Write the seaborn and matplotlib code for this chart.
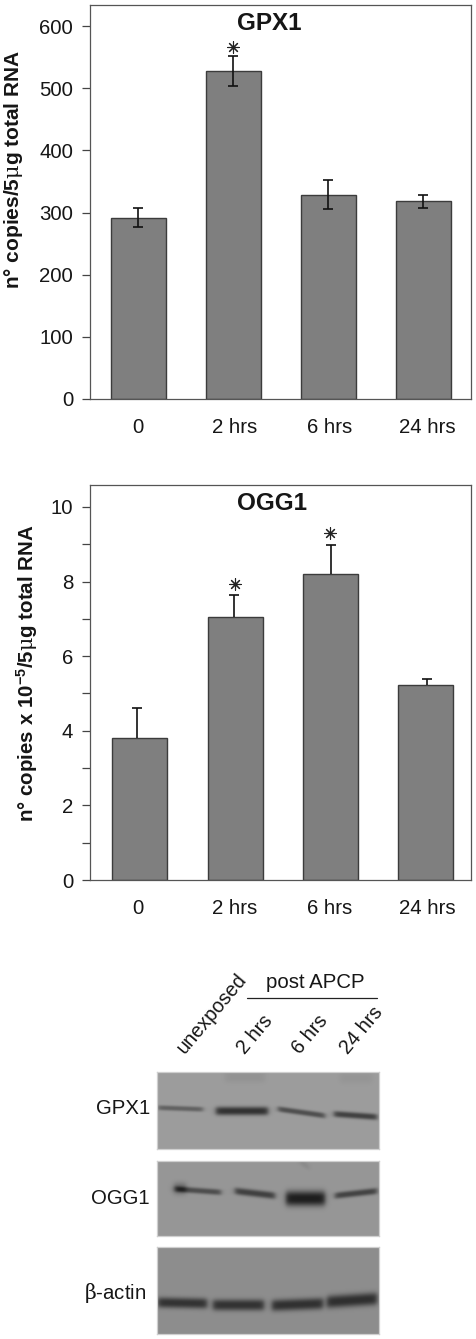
import numpy as np
import pandas as pd
import matplotlib
matplotlib.use('Agg')
import matplotlib.pyplot as plt
from matplotlib.ticker import MultipleLocator
import seaborn as sns

sns.set_theme(style='white')
plt.rcParams['font.family'] = ['Liberation Sans', 'DejaVu Sans']
plt.rcParams['mathtext.fontset'] = 'custom'
plt.rcParams['mathtext.rm'] = 'Liberation Sans'
plt.rcParams['mathtext.it'] = 'DejaVu Serif'
plt.rcParams['mathtext.bf'] = 'Liberation Sans:bold'
plt.rcParams['mathtext.default'] = 'regular'

W, H = 477, 1339
INK = '#161616'

times = ['0', '2 hrs', '6 hrs', '24 hrs']
# the time labels do not sit quite under the bars in the original
label_shift = [0, 0.01, 0.01, 0.04]

gpx_values = [291, 528, 329, 318]
gpx_low = [276, 504, 306, 308]
gpx_high = [307, 552, 352, 328]
gpx_star_x = [1]
gpx_star_y = [566]

ogg_values = [3.8, 7.06, 8.2, 5.22]
ogg_high = [4.6, 7.63, 8.97, 5.38]
ogg_star_x = [1, 2]
ogg_star_y = [7.94, 9.29]
# error bars in the OGG1 panel sit a little off the bar centres
ogg_err_shift = [-0.03, -0.015, 0.007, 0.014]

# western blots, in picture pixels: x0, x1, y0, y1, half width, darkness
blot_gpx_box = (157, 379, 1072, 1149)
blot_gpx_grey = 156
blot_gpx_bands = [
    (158, 203, 1107.7, 1109.3, 2.6, 58),
    (216, 268, 1111, 1111, 4.3, 105),
    (278, 325, 1109, 1115.7, 2.9, 76),
    (334, 377, 1114, 1117, 3.2, 90),
    (225, 265, 1077, 1077, 6, 9),
    (340, 372, 1078, 1078, 6, 7),
]
blot_ogg_box = (157, 379, 1161, 1236)
blot_ogg_grey = 150
blot_ogg_bands = [
    (175, 221, 1189, 1192.3, 3.0, 72),
    (174, 186, 1188.5, 1188.5, 6.0, 48),
    (235, 275, 1191, 1195.7, 3.6, 85),
    (286, 325, 1198.5, 1198.5, 7.5, 120),
    (335, 377, 1195.7, 1191, 3.3, 82),
    (300, 309, 1162, 1167, 3.5, 12),
]
blot_actin_box = (157, 379, 1247, 1334)
blot_actin_grey = 141
blot_actin_bands = [
    (158, 207, 1302.5, 1303.5, 5.3, 90),
    (213, 264, 1305, 1305, 5.6, 90),
    (272, 323, 1305.5, 1303.5, 5.8, 92),
    (327, 377, 1302, 1298.7, 6.4, 94),
]


def px_axes(left, top, right, bottom):
    return fig.add_axes([left / W, 1 - bottom / H, (right - left) / W, (bottom - top) / H])


def px_text(x, y, s, **kw):
    kw.setdefault('color', INK)
    fig.text(x / W, 1 - y / H, s, **kw)


def bar_panel(ax, values, lo, hi, ymax, shift=0.0, err_shift=None):
    data = pd.DataFrame({'time': times, 'value': values})
    sns.barplot(data=data, x='time', y='value', color='#7f7f7f', saturation=1,
                width=0.578, edgecolor='#3c3c3c', linewidth=1.0, errorbar=None, ax=ax)
    pos = np.arange(len(times))
    if err_shift is None:
        err_shift = np.zeros(len(times))
    yerr = [np.array(values) - np.array(lo), np.array(hi) - np.array(values)]
    _, caps, _ = ax.errorbar(pos + np.array(err_shift), values, yerr=yerr, fmt='none',
                             ecolor='#111111', elinewidth=1.2, capsize=3.8, capthick=1.2, zorder=5)
    if lo is values:
        caps[0].set_visible(False)
    ax.set_xlim(-0.5 - shift, 3.5 - shift)
    ax.set_ylim(0, ymax)
    ax.set_xlabel('')
    ax.set_ylabel('')
    ax.set_xticks(pos - shift + np.array(label_shift), times)
    ax.tick_params(axis='x', length=0, pad=14, labelsize=14.7, labelcolor=INK)
    ax.tick_params(axis='y', which='both', left=True, length=5.5, width=0.9, color='#444444',
                   pad=7, labelsize=14.7, labelcolor=INK)
    for side in ax.spines:
        ax.spines[side].set_color('#555555')
        ax.spines[side].set_linewidth(0.9)


def stars(ax, xs, ys):
    ax.scatter(xs, ys, marker=(8, 2, 0), s=70, color='#222222', linewidths=0.8, zorder=6)


def blot(box, grey, bands):
    x0, x1, y0, y1 = box
    X, Y = np.meshgrid(np.arange(x0, x1) + 0.5, np.arange(y0, y1) + 0.5)
    img = np.full(X.shape, float(grey))
    for xa, xb, ya, yb, half, dark in bands:
        along = 0.5 * (np.tanh((X - xa) / 3.0) - np.tanh((X - xb) / 3.0))
        mid = ya + (yb - ya) * np.clip((X - xa) / (xb - xa), 0, 1)
        img -= dark * along * np.exp(-np.abs((Y - mid) / half) ** 2.5)
    ax = px_axes(x0, y0, x1, y1)
    sns.heatmap(img, cmap='gray', vmin=0, vmax=255, cbar=False,
                xticklabels=False, yticklabels=False, ax=ax)
    for side in ax.spines:
        ax.spines[side].set_visible(True)
        ax.spines[side].set_color('#cfcfcf')
        ax.spines[side].set_linewidth(0.9)


fig = plt.figure(figsize=(W / 100, H / 100), dpi=100)

ax1 = px_axes(90.5, 5, 471, 399)
bar_panel(ax1, gpx_values, gpx_low, gpx_high, 634)
ax1.yaxis.set_major_locator(MultipleLocator(100))
stars(ax1, gpx_star_x, gpx_star_y)
px_text(269, 23, 'GPX1', fontsize=17.5, fontweight='bold', ha='center', va='center')
px_text(14, 169.5, r'n° copies/5$\mathit{\mu}$g total RNA', fontsize=15, fontweight='bold',
        rotation=90, ha='center', va='center')

ax2 = px_axes(90.5, 484.5, 471, 880)
bar_panel(ax2, ogg_values, ogg_values, ogg_high, 10.6, shift=0.02, err_shift=ogg_err_shift)
ax2.yaxis.set_major_locator(MultipleLocator(2))
ax2.yaxis.set_minor_locator(MultipleLocator(1))
stars(ax2, ogg_star_x, ogg_star_y)
px_text(272, 503, 'OGG1', fontsize=17.5, fontweight='bold', ha='center', va='center')
px_text(27, 673, r'n° copies x 10$^{-5}$/5$\mathit{\mu}$g total RNA', fontsize=14.8, fontweight='bold',
        rotation=90, ha='center', va='center')

blot(blot_gpx_box, blot_gpx_grey, blot_gpx_bands)
blot(blot_ogg_box, blot_ogg_grey, blot_ogg_bands)
blot(blot_actin_box, blot_actin_grey, blot_actin_bands)

px_text(150, 1109, 'GPX1', fontsize=14.7, ha='right', va='center')
px_text(150, 1198, 'OGG1', fontsize=14.7, ha='right', va='center')
px_text(146, 1293, r'$\mathit{\beta}$-actin', fontsize=14.7, ha='right', va='center')

px_text(315, 982, 'post APCP', fontsize=14.7, ha='center', va='center')
fig.add_artist(plt.Line2D([247 / W, 377 / W], [1 - 998 / H, 1 - 998 / H], color='#222222', lw=0.9))
for x, y, s in [(188, 1057, 'unexposed'), (248, 1058, '2 hrs'), (303, 1058, '6 hrs'), (351, 1058, '24 hrs')]:
    px_text(x, y, s, fontsize=14.3, rotation=50, rotation_mode='anchor', ha='left', va='bottom')

fig.savefig('out.png', dpi=100, facecolor='white')
